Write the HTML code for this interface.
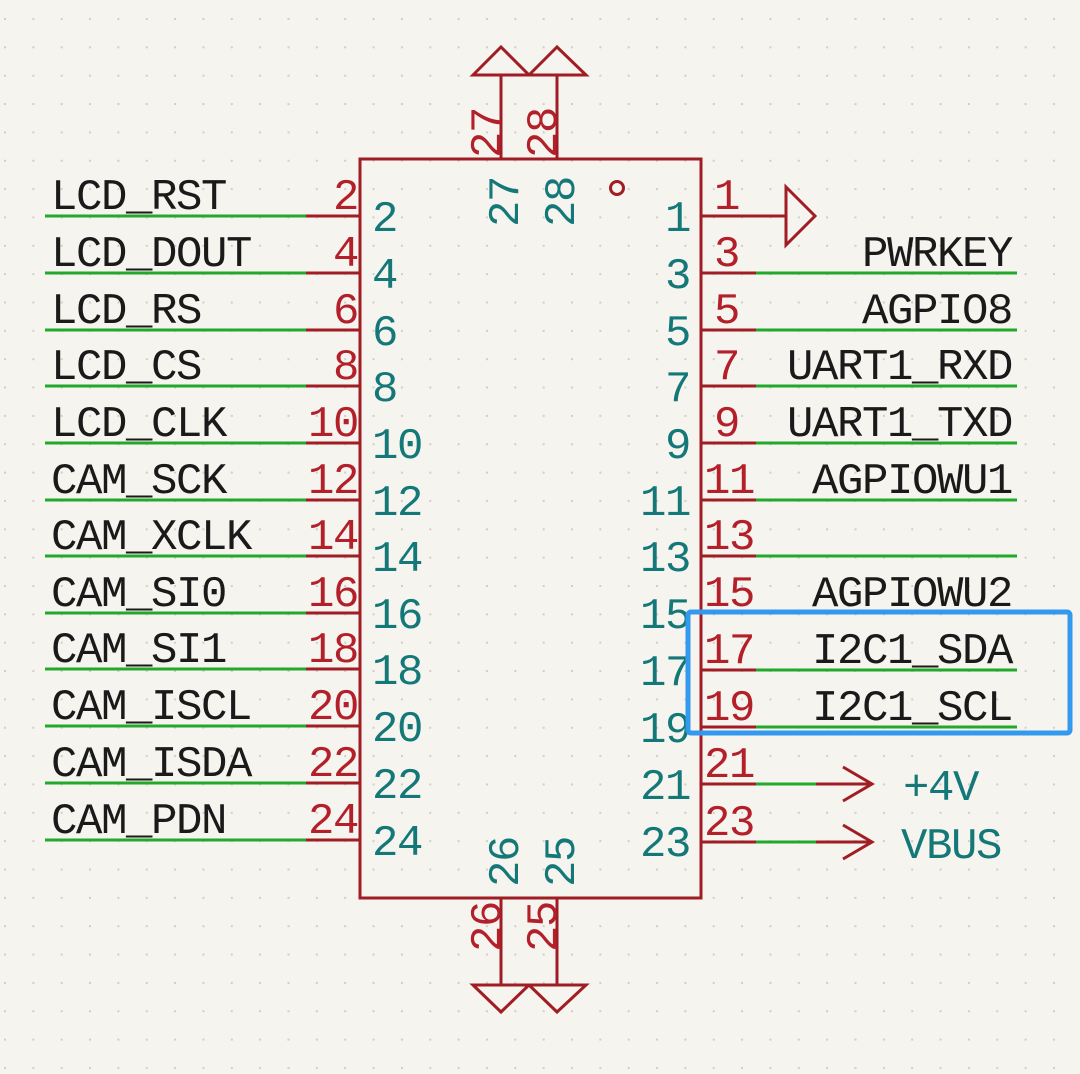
<!DOCTYPE html>
<html><head><meta charset="utf-8"><style>
html,body{margin:0;padding:0;background:#f5f4ef;}
svg{display:block}
text{font-family:"Liberation Mono","DejaVu Sans Mono",monospace;font-size:44px;letter-spacing:-1.4px}
.k{fill:#1a1a1a}
.r{fill:#b3202a}
.t{fill:#157878}
</style></head><body>
<svg width="1080" height="1074" viewBox="0 0 1080 1074" xmlns="http://www.w3.org/2000/svg">
<defs>
<pattern id="g" x="4" y="18" width="28.35" height="28.35" patternUnits="userSpaceOnUse">
<rect x="0" y="0" width="2" height="2" fill="#cfcfca"/>
</pattern>
</defs>
<rect width="1080" height="1074" fill="#f5f4ef"/>
<rect width="1080" height="1074" fill="url(#g)"/>

<rect x="360" y="159" width="341" height="739" fill="none" stroke="#a11d24" stroke-width="3"/>
<circle cx="617" cy="188" r="6.5" fill="none" stroke="#a11d24" stroke-width="3"/>

<g stroke-width="3" fill="none">
<g stroke="#22a82a">
<line x1="45" y1="216" x2="306" y2="216"/><line x1="45" y1="273" x2="306" y2="273"/>
<line x1="45" y1="330" x2="306" y2="330"/><line x1="45" y1="386" x2="306" y2="386"/>
<line x1="45" y1="443" x2="306" y2="443"/><line x1="45" y1="500" x2="306" y2="500"/>
<line x1="45" y1="556" x2="306" y2="556"/><line x1="45" y1="613" x2="306" y2="613"/>
<line x1="45" y1="669" x2="306" y2="669"/><line x1="45" y1="726" x2="306" y2="726"/>
<line x1="45" y1="783" x2="306" y2="783"/><line x1="45" y1="840" x2="306" y2="840"/>
</g>
<g stroke="#a11d24">
<line x1="306" y1="216" x2="360" y2="216"/><line x1="306" y1="273" x2="360" y2="273"/>
<line x1="306" y1="330" x2="360" y2="330"/><line x1="306" y1="386" x2="360" y2="386"/>
<line x1="306" y1="443" x2="360" y2="443"/><line x1="306" y1="500" x2="360" y2="500"/>
<line x1="306" y1="556" x2="360" y2="556"/><line x1="306" y1="613" x2="360" y2="613"/>
<line x1="306" y1="669" x2="360" y2="669"/><line x1="306" y1="726" x2="360" y2="726"/>
<line x1="306" y1="783" x2="360" y2="783"/><line x1="306" y1="840" x2="360" y2="840"/>
</g>
<g stroke="#22a82a">
<line x1="756" y1="273" x2="1017" y2="273"/><line x1="756" y1="330" x2="1017" y2="330"/>
<line x1="756" y1="386" x2="1017" y2="386"/><line x1="756" y1="443" x2="1017" y2="443"/>
<line x1="756" y1="500" x2="1017" y2="500"/><line x1="756" y1="556" x2="1017" y2="556"/>
<line x1="756" y1="613" x2="1017" y2="613"/><line x1="756" y1="670" x2="1017" y2="670"/>
<line x1="756" y1="727" x2="1017" y2="727"/>
<line x1="756" y1="784" x2="816" y2="784"/><line x1="756" y1="842" x2="816" y2="842"/>
</g>
<g stroke="#a11d24">
<line x1="701" y1="216" x2="786" y2="216"/>
<polygon points="786,187 815,216 786,245"/>
<line x1="701" y1="273" x2="756" y2="273"/><line x1="701" y1="330" x2="756" y2="330"/>
<line x1="701" y1="386" x2="756" y2="386"/><line x1="701" y1="443" x2="756" y2="443"/>
<line x1="701" y1="500" x2="756" y2="500"/><line x1="701" y1="556" x2="756" y2="556"/>
<line x1="701" y1="613" x2="756" y2="613"/><line x1="701" y1="670" x2="756" y2="670"/>
<line x1="701" y1="727" x2="756" y2="727"/>
<line x1="701" y1="784" x2="756" y2="784"/><line x1="701" y1="842" x2="756" y2="842"/>
<line x1="816" y1="784" x2="872" y2="784"/><polyline points="843,767 872,784 843,801"/>
<line x1="816" y1="842" x2="872" y2="842"/><polyline points="843,825 872,842 843,859"/>
<line x1="501" y1="75" x2="501" y2="159"/><line x1="557" y1="75" x2="557" y2="159"/>
<polygon points="473,75 501,47 529,75"/><polygon points="529,75 557,47 586,75"/>
<line x1="501" y1="898" x2="501" y2="985"/><line x1="557" y1="898" x2="557" y2="985"/>
<polygon points="473,985 501,1012 529,985"/><polygon points="529,985 557,1012 586,985"/>
</g>
</g>

<g class="k">
<text x="51" y="209">LCD_RST</text><text x="51" y="266">LCD_DOUT</text>
<text x="51" y="323">LCD_RS</text><text x="51" y="379">LCD_CS</text>
<text x="51" y="436">LCD_CLK</text><text x="51" y="493">CAM_SCK</text>
<text x="51" y="549">CAM_XCLK</text><text x="51" y="606">CAM_SI0</text>
<text x="51" y="662">CAM_SI1</text><text x="51" y="719">CAM_ISCL</text>
<text x="51" y="776">CAM_ISDA</text><text x="51" y="833">CAM_PDN</text>
</g>
<g class="r" text-anchor="end">
<text x="358" y="209">2</text><text x="358" y="266">4</text><text x="358" y="323">6</text>
<text x="358" y="379">8</text><text x="358" y="436">10</text><text x="358" y="493">12</text>
<text x="358" y="549">14</text><text x="358" y="606">16</text><text x="358" y="662">18</text>
<text x="358" y="719">20</text><text x="358" y="776">22</text><text x="358" y="833">24</text>
</g>
<g class="t">
<text x="372" y="231">2</text><text x="372" y="288">4</text><text x="372" y="345">6</text>
<text x="372" y="401">8</text><text x="372" y="458">10</text><text x="372" y="515">12</text>
<text x="372" y="571">14</text><text x="372" y="628">16</text><text x="372" y="684">18</text>
<text x="372" y="741">20</text><text x="372" y="798">22</text><text x="372" y="855">24</text>
</g>
<g class="t" text-anchor="end">
<text x="690" y="231">1</text><text x="690" y="288">3</text><text x="690" y="345">5</text>
<text x="690" y="401">7</text><text x="690" y="458">9</text><text x="690" y="515">11</text>
<text x="690" y="571">13</text><text x="690" y="628">15</text><text x="690" y="685">17</text>
<text x="690" y="742">19</text><text x="690" y="799">21</text><text x="690" y="856">23</text>
</g>
<g class="r">
<text x="714" y="209">1</text><text x="714" y="266">3</text><text x="714" y="323">5</text>
<text x="714" y="379">7</text><text x="714" y="436">9</text><text x="704" y="493">11</text>
<text x="704" y="549">13</text><text x="704" y="606">15</text><text x="704" y="663">17</text>
<text x="704" y="720">19</text><text x="704" y="777">21</text><text x="704" y="835">23</text>
</g>
<g class="k" text-anchor="end">
<text x="1012" y="266">PWRKEY</text><text x="1012" y="323">AGPIO8</text>
<text x="1012" y="379">UART1_RXD</text><text x="1012" y="436">UART1_TXD</text>
<text x="1012" y="493">AGPIOWU1</text><text x="1012" y="606">AGPIOWU2</text>
<text x="1012" y="663">I2C1_SDA</text><text x="1012" y="720">I2C1_SCL</text>
</g>
<g class="t">
<text x="903" y="800">+4V</text><text x="901" y="858">VBUS</text>
</g>
<text class="r" transform="translate(500,158) rotate(-90)">27</text>
<text class="r" transform="translate(556,158) rotate(-90)">28</text>
<text class="t" transform="translate(518,227) rotate(-90)">27</text>
<text class="t" transform="translate(574,227) rotate(-90)">28</text>
<text class="t" transform="translate(518,887) rotate(-90)">26</text>
<text class="t" transform="translate(574,887) rotate(-90)">25</text>
<text class="r" transform="translate(500,952) rotate(-90)">26</text>
<text class="r" transform="translate(556,952) rotate(-90)">25</text>

<rect x="688" y="612" width="382" height="121" rx="3" fill="none" stroke="#3399ee" stroke-width="5"/>
</svg>
</body></html>
